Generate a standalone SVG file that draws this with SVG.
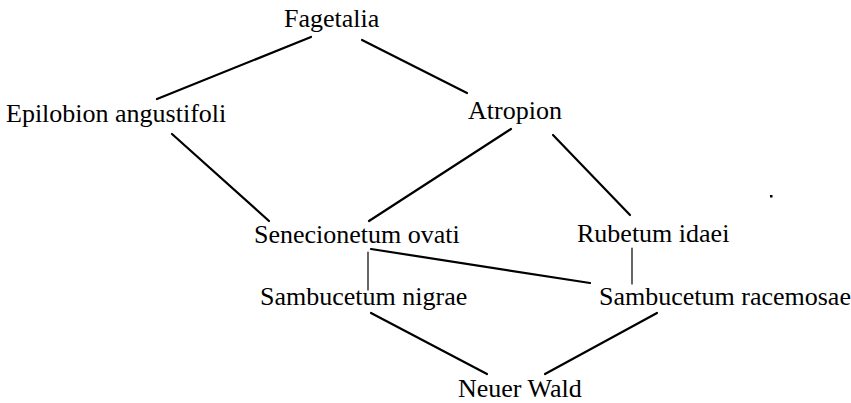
<svg xmlns="http://www.w3.org/2000/svg" width="851" height="403" viewBox="0 0 851 403">
<style>
text{font-family:"Liberation Serif","Times New Roman",serif;font-size:26px;fill:#000}
.c line{stroke:#000;stroke-width:2.2;stroke-linecap:round}
.c line.v{stroke-width:1.2}
</style>
<rect width="851" height="403" fill="#fff"/>
<g class="c" id="connectors">
<line x1="311" y1="37" x2="157" y2="99"/>
<line x1="362" y1="40" x2="467" y2="93"/>
<line x1="172" y1="134" x2="269" y2="221"/>
<line x1="511" y1="129" x2="369" y2="221"/>
<line x1="553" y1="135" x2="630" y2="215"/>
<line class="v" x1="368" y1="252" x2="368" y2="290"/>
<line x1="371" y1="249" x2="590" y2="283"/>
<line class="v" x1="632" y1="248" x2="632" y2="284"/>
<line x1="371" y1="313" x2="487" y2="374"/>
<line x1="657" y1="313" x2="545" y2="374"/>
</g>
<g id="n-fagetalia"><text x="284" y="27">Fagetalia</text></g>
<g id="n-epilobion"><text x="6" y="122">Epilobion angustifoli</text></g>
<g id="n-atropion"><text x="468" y="119">Atropion</text></g>
<g id="n-senecionetum"><text x="254" y="243">Senecionetum ovati</text></g>
<g id="n-rubetum"><text x="577" y="242">Rubetum idaei</text></g>
<g id="n-sambnigrae"><text x="260" y="305">Sambucetum nigrae</text></g>
<g id="n-sambracemosae"><text x="599" y="305">Sambucetum racemosae</text></g>
<g id="n-neuerwald"><text x="458" y="397">Neuer Wald</text></g>
<rect x="770" y="195" width="2.5" height="2.5" fill="#000"/>
</svg>
